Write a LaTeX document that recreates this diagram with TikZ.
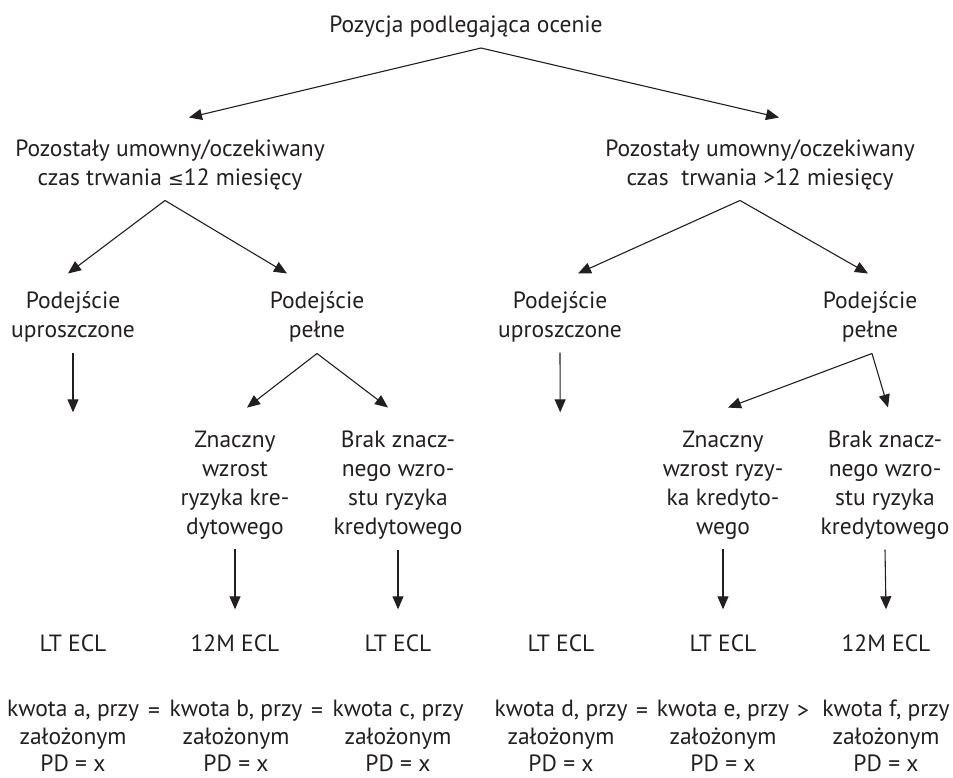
\documentclass[tikz,border=0pt]{standalone}
\usepackage{fontspec}
\setmainfont{PT Sans}
\newfontfamily\symbolfont{DejaVu Sans}[Scale=0.8]
\usetikzlibrary{arrows.meta}
\definecolor{tekst}{RGB}{35,31,32}
\tikzset{
  opis/.style={align=center, inner sep=0pt, text=tekst, font=\fontsize{23.5}{29}\selectfont},
  kwota/.style={opis, font=\fontsize{23.5}{27.5}\selectfont},
  strz/.style={-{Triangle[length=13pt,width=11pt]}, line width=1.1pt, draw=tekst},
}

\begin{document}
\begin{tikzpicture}[x=1pt,y=1pt]
\useasboundingbox[fill=white] (0,0) rectangle (953,-778);
\node[opis] (poz) at (466,-27) {Pozycja podlegająca ocenie};
\node[opis] (krotki) at (170,-165) {Pozostały umowny/oczekiwany\\czas trwania {\symbolfont ≤}12 miesięcy};
\node[opis] (dlugi) at (760,-165) {Pozostały umowny/oczekiwany\\czas\ \ trwania >12 miesięcy};
\node[opis] (uprA) at (73,-317) {Podejście\\uproszczone};
\node[opis] (pelA) at (317,-317) {Podejście\\pełne};
\node[opis] (uprB) at (560,-317) {Podejście\\uproszczone};
\node[opis] (pelB) at (870,-317) {Podejście\\pełne};
\node[opis] (znA) at (235,-485) {Znaczny\\wzrost\\ryzyka kre-\\dytowego};
\node[opis] (brA) at (398,-485) {Brak znacz-\\nego wzro-\\stu ryzyka\\kredytowego};
\node[opis] (znB) at (723,-485) {Znaczny\\wzrost ryzy-\\ka kredyto-\\wego};
\node[opis] (brB) at (885,-485) {Brak znacz-\\nego wzro-\\stu ryzyka\\kredytowego};
\node[opis] (eclA) at (73,-643) {LT ECL};
\node[opis] (eclB) at (235,-643) {12M ECL};
\node[opis] (eclC) at (398,-643) {LT ECL};
\node[opis] (eclD) at (561,-643) {LT ECL};
\node[opis] (eclE) at (723,-643) {LT ECL};
\node[opis] (eclF) at (886,-643) {12M ECL};
\node[kwota] (kwA) at (73,-736) {kwota a, przy\\założonym\\PD = x};
\node[kwota] (kwB) at (236,-736) {kwota b, przy\\założonym\\PD = x};
\node[kwota] (kwC) at (398,-736) {kwota c, przy\\założonym\\PD = x};
\node[kwota] (kwD) at (561,-736) {kwota d, przy\\założonym\\PD = x};
\node[kwota] (kwE) at (723,-736) {kwota e, przy\\założonym\\PD = x};
\node[kwota] (kwF) at (886,-736) {kwota f, przy\\założonym\\PD = x};
\node[opis, anchor=base] (rowAB) at (154,-718) {=};
\node[opis, anchor=base] (rowBC) at (317,-718) {=};
\node[opis, anchor=base] (rowDE) at (642,-718) {=};
\node[opis, anchor=base] (wiekEF) at (803,-718) {>};
\draw[strz] ([shift={(15,-10)}]poz.south) -- ([shift={(19,22)}]krotki.north);
\draw[strz] ([shift={(15,-10)}]poz.south) -- ([shift={(19,22)}]dlugi.north);
\draw[strz] ([shift={(-5,-10)}]krotki.south) -- ([shift={(-5,18)}]uprA.north);
\draw[strz] ([shift={(-5,-10)}]krotki.south) -- ([shift={(-30,18)}]pelA.north);
\draw[strz] ([shift={(-20,-10)}]dlugi.south) -- ([shift={(18,18)}]uprB.north);
\draw[strz] ([shift={(-20,-10)}]dlugi.south) -- ([shift={(-2,18)}]pelB.north);
\draw[strz, shorten >=222pt] ([yshift=-10]uprA.south) -- (eclA.north);
\draw[strz, shorten >=222pt] ([yshift=-10]uprB.south) -- (eclD.north);
\draw[strz] ([yshift=-11]pelA.south) -- ([shift={(12,23)}]znA.north);
\draw[strz] ([yshift=-11]pelA.south) -- ([shift={(-10,23)}]brA.north);
\draw[strz] ([shift={(2,-11)}]pelB.south) -- ([shift={(5,23)}]znB.north);
\draw[strz] ([shift={(2,-11)}]pelB.south) -- ([shift={(3,23)}]brB.north);
\draw[strz] ([yshift=-10]znA.south) -- ([yshift=25]eclB.north);
\draw[strz] ([yshift=-10]brA.south) -- ([yshift=25]eclC.north);
\draw[strz] ([yshift=-10]znB.south) -- ([yshift=25]eclE.north);
\draw[strz] ([yshift=-10]brB.south) -- ([yshift=25]eclF.north);
\end{tikzpicture}
\end{document}
